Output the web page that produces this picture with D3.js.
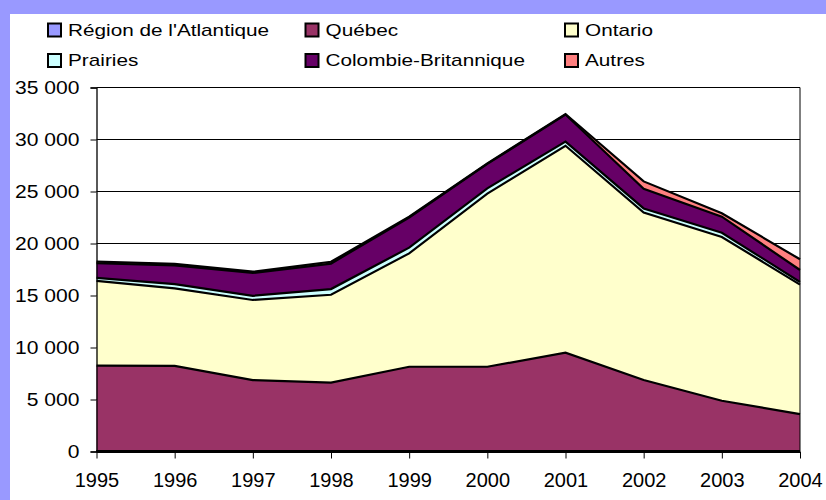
<!DOCTYPE html>
<html><head><meta charset="utf-8">
<script src="https://cdn.jsdelivr.net/npm/d3@7"></script>
<style>body{margin:0;background:#fff}svg text{font-family:"Liberation Sans",Arial,sans-serif;fill:#000}</style>
</head><body><svg id="c" width="826" height="500"></svg>
<script>
const years = [1995,1996,1997,1998,1999,2000,2001,2002,2003,2004];
const atlantique = [50,40,40,50,40,40,50,40,40,30];
const quebec = [8200,8200,6830,6570,8110,8110,9450,6830,4840,3570];
const ontario = [8150,7450,7700,8450,10900,16650,19900,16100,15750,12450];
const prairies = [300,400,400,550,550,500,400,400,400,250];
const colombie = [1400,1800,2200,2450,2900,2350,2600,1900,1550,1150];
const autres = [150,150,120,170,80,60,50,700,330,1030];
const seriesNames = ["Région de l'Atlantique","Québec","Ontario","Prairies","Colombie-Britannique","Autres"];
const seriesColors = ["#9999FF","#993366","#FFFFCC","#CCFFFF","#660066","#FF8080"];
const yTicks = [0,5000,10000,15000,20000,25000,30000,35000];

const seriesData = [atlantique,quebec,ontario,prairies,colombie,autres];
const rows = years.map((y,i)=>{const r={year:y}; seriesNames.forEach((n,k)=>r[n]=seriesData[k][i]); return r;});
const stacked = d3.stack().keys(seriesNames)(rows);

const svg = d3.select("#c");
svg.append("rect").attr("width",826).attr("height",500).attr("fill","#9999FF");
svg.append("rect").attr("x",10).attr("y",14).attr("width",816).attr("height",486).attr("fill","#fff");

const x = d3.scaleLinear().domain([1995,2004]).range([96.5,800]);
const y = d3.scaleLinear().domain([0,35000]).range([451.5,87.5]);

function stretch(sel,f){sel.each(function(){const w=this.getComputedTextLength();d3.select(this).attr("textLength",w*f).attr("lengthAdjust","spacingAndGlyphs");});}

// gridlines
svg.append("g").selectAll("line").data(yTicks.slice(1)).join("line")
  .attr("x1",96.5).attr("x2",800).attr("y1",d=>y(d)).attr("y2",d=>y(d))
  .attr("stroke","#000").attr("stroke-width",1);

// areas
const area = d3.area().x(d=>x(d.data.year)).y0(d=>y(d[0])).y1(d=>y(d[1]));
const topLine = d3.line().x(d=>x(d.data.year)).y(d=>y(d[1]));
svg.append("g").selectAll("path").data(stacked).join("path")
  .attr("d",area).attr("fill",(d,i)=>seriesColors[i]);
svg.append("g").selectAll("path").data(stacked).join("path")
  .attr("d",topLine).attr("fill","none").attr("stroke","#000").attr("stroke-width",2.2).attr("stroke-linejoin","miter");

// right border
svg.append("line").attr("x1",800).attr("x2",800).attr("y1",87.5).attr("y2",451.5).attr("stroke","#000").attr("stroke-width",1);

// y axis
const ya = svg.append("g").attr("transform","translate(96.5,0)")
  .call(d3.axisLeft(y).tickValues(yTicks).tickSize(6).tickPadding(11)
    .tickFormat(d=>d3.format(",")(d).replace(/,/g," ")));
ya.select(".domain").attr("stroke","#000").attr("stroke-width",1.3);
ya.selectAll(".tick line").attr("stroke","#000");
ya.selectAll("text").attr("font-size",18).attr("dy","0.36em").call(stretch,1.17);

// baseline
svg.append("line").attr("x1",96.5).attr("x2",800).attr("y1",451.5).attr("y2",451.5).attr("stroke","#000").attr("stroke-width",3);

// x axis
const xa = svg.append("g").attr("transform","translate(0,451.5)")
  .call(d3.axisBottom(x).tickValues(years).tickFormat(d3.format("d")).tickSize(7).tickPadding(14));
xa.select(".domain").remove();
xa.selectAll(".tick line").attr("stroke","#000");
xa.selectAll("text").attr("font-size",20).attr("dy","0.71em");

// legend
const legPos = [[48,0],[305.5,0],[565,0],[48,1],[305.5,1],[565,1]];
const order = [0,1,2,3,4,5];
const leg = svg.append("g").selectAll("g").data(order).join("g")
  .attr("transform",(d,i)=>`translate(${legPos[i][0]},${23.5+legPos[i][1]*30.5})`);
leg.append("rect").attr("width",13).attr("height",13).attr("fill",d=>seriesColors[d]).attr("stroke","#000").attr("stroke-width",2);
leg.append("text").attr("x",20).attr("y",12.3).attr("font-size",17).text(d=>seriesNames[d]).call(stretch,1.22);
</script></body></html>
